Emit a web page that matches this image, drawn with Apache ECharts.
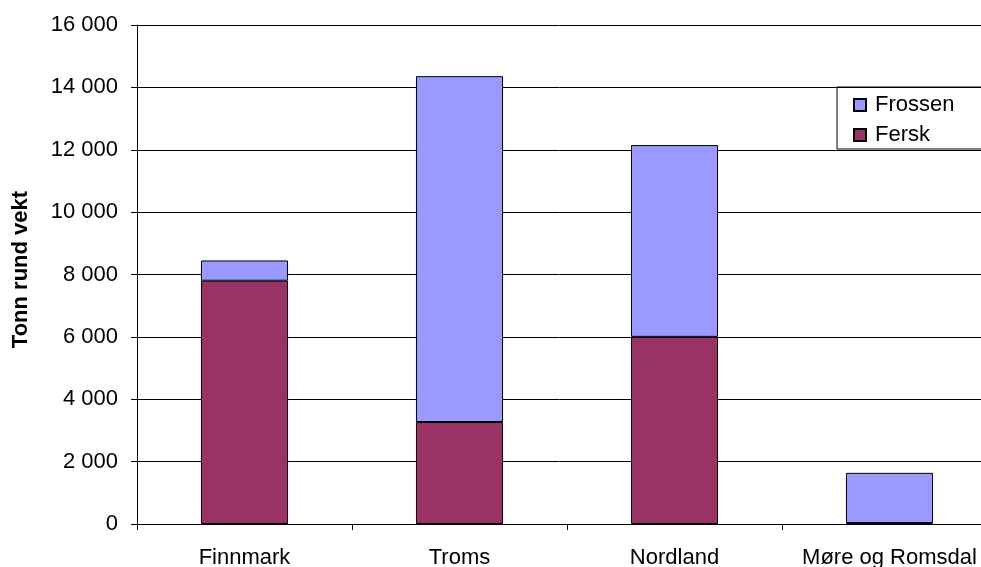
<!DOCTYPE html>
<html><head><meta charset="utf-8">
<script src="https://cdn.jsdelivr.net/npm/echarts@6/dist/echarts.min.js"></script>
<style>html,body{margin:0;padding:0;background:#fff;overflow:hidden}#c{width:981px;height:567px}</style>
</head><body><div id="c"></div>
<script>
const categories = ['Finnmark', 'Troms', 'Nordland', 'Møre og Romsdal'];
const fersk = [7800, 3270, 6000, 30];
const frossen = [650, 11090, 6150, 1610];
const yTicks = [0, 2000, 4000, 6000, 8000, 10000, 12000, 14000, 16000];

const chart = echarts.init(document.getElementById('c'), null, {renderer: 'canvas'});
const font = 'Liberation Sans, Arial, sans-serif';
chart.setOption({
  animation: false,
  backgroundColor: '#fff',
  grid: {left: 137, right: -16, top: 25, bottom: 43, containLabel: false, outerBoundsMode: 'none'},
  legend: {
    left: 837, top: 87, orient: 'vertical',
    data: ['Frossen', 'Fersk'],
    itemWidth: 12, itemHeight: 12, itemGap: 8,
    padding: [7, 60, 3, 16],
    borderColor: '#000', borderWidth: 1,
    textStyle: {fontFamily: font, fontSize: 22, color: '#000', padding: [0, 0, 0, 4]},
    icon: 'rect'
  },
  xAxis: {
    type: 'category', data: categories,
    axisLine: {lineStyle: {color: '#000', width: 1}},
    axisTick: {show: true, length: 6, alignWithLabel: false, interval: 0, lineStyle: {color: '#000'}},
    axisLabel: {fontFamily: font, fontSize: 22, color: '#000', margin: 23, interval: 0, hideOverlap: false},
    splitLine: {show: false}
  },
  yAxis: {
    type: 'value', min: yTicks[0], max: yTicks[yTicks.length - 1], interval: 2000,
    name: 'Tonn rund vekt', nameLocation: 'middle', nameGap: 105,
    nameTextStyle: {fontFamily: font, fontSize: 22, fontWeight: 'bold', color: '#000', padding: [0, 0, 0, 10]},
    axisLine: {show: true, lineStyle: {color: '#000', width: 1}},
    axisTick: {show: true, length: 6, lineStyle: {color: '#000'}},
    axisLabel: {fontFamily: font, fontSize: 22, color: '#000', margin: 19,
      formatter: v => String(v).replace(/\B(?=(\d{3})+(?!\d))/g, ' ')},
    splitLine: {show: true, lineStyle: {color: '#000', width: 1}}
  },
  series: [
    {name: 'Fersk', type: 'bar', stack: 'a', data: fersk, barWidth: '40.5%',
     itemStyle: {color: '#993366', borderColor: '#000', borderWidth: 1}},
    {name: 'Frossen', type: 'bar', stack: 'a', data: frossen, barWidth: '40.5%',
     itemStyle: {color: '#9999FF', borderColor: '#000', borderWidth: 1}}
  ]
});
</script></body></html>
